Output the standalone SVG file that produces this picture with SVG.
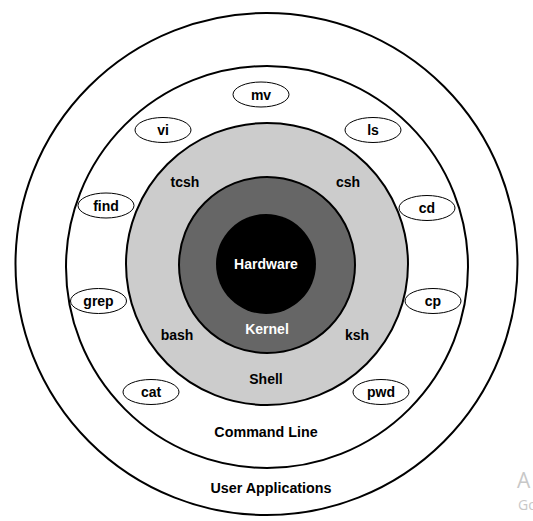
<svg xmlns="http://www.w3.org/2000/svg" width="533" height="521" viewBox="0 0 533 521">
<style>
.ring{stroke:#000;stroke-width:2}
.cmd{fill:#fff;stroke:#000;stroke-width:1}
.t{font-family:"Liberation Sans",Arial,sans-serif;font-weight:bold;font-size:14px;text-anchor:middle;fill:#000}
.w{fill:#fff}
.wm{font-family:"Open Sans","Liberation Sans",sans-serif;fill:#c8c8c8}
</style>
<rect width="533" height="521" fill="#fff"/>
<g id="user-applications">
<circle class="ring" cx="266.5" cy="264" r="251" fill="#fff"/>
<text class="t" x="271" y="493" style="font-size:14.3px">User Applications</text>
</g>
<g id="command-line">
<circle class="ring" cx="267" cy="267" r="201" fill="#fff"/>
<text class="t" x="266" y="437" style="font-size:14.3px">Command Line</text>
</g>
<g id="shell">
<circle class="ring" cx="267" cy="264" r="141" fill="#cccccc"/>
<text class="t" x="266" y="384">Shell</text>
</g>
<g id="kernel">
<circle class="ring" cx="267" cy="265" r="88" fill="#666666"/>
<text class="t w" x="267" y="334">Kernel</text>
</g>
<g id="hardware">
<circle cx="266" cy="264" r="50" fill="#000"/>
<text class="t w" x="266" y="269">Hardware</text>
</g>
<g id="shells">
<text class="t" x="185" y="187">tcsh</text>
<text class="t" x="348" y="187">csh</text>
<text class="t" x="177" y="340">bash</text>
<text class="t" x="357" y="340">ksh</text>
</g>
<g id="mv"><ellipse class="cmd" cx="261" cy="94.5" rx="28" ry="12.5"/><text class="t" x="261" y="99.5">mv</text></g>
<g id="vi"><ellipse class="cmd" cx="163" cy="130" rx="28" ry="12.5"/><text class="t" x="163" y="135">vi</text></g>
<g id="ls"><ellipse class="cmd" cx="373" cy="130" rx="28" ry="12.5"/><text class="t" x="373" y="135">ls</text></g>
<g id="find"><ellipse class="cmd" cx="106" cy="205.5" rx="28" ry="12.5"/><text class="t" x="106" y="210.5">find</text></g>
<g id="cd"><ellipse class="cmd" cx="427" cy="208" rx="28" ry="12.5"/><text class="t" x="427" y="213">cd</text></g>
<g id="grep"><ellipse class="cmd" cx="98.5" cy="301" rx="28" ry="12.5"/><text class="t" x="98.5" y="305.5">grep</text></g>
<g id="cp"><ellipse class="cmd" cx="433" cy="301" rx="28" ry="12.5"/><text class="t" x="433" y="305.5">cp</text></g>
<g id="cat"><ellipse class="cmd" cx="151" cy="392" rx="28" ry="12.5"/><text class="t" x="151" y="397">cat</text></g>
<g id="pwd"><ellipse class="cmd" cx="381" cy="392" rx="28" ry="12.5"/><text class="t" x="381" y="397">pwd</text></g>
<g id="watermark">
<text class="wm" x="517" y="488" font-size="21">A</text>
<text class="wm" x="518" y="510" font-size="14">Go</text>
</g>
</svg>
